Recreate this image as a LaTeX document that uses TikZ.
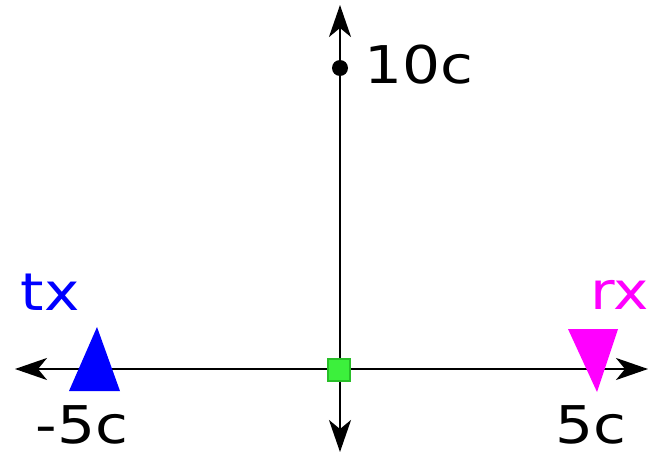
\documentclass[tikz,border=0pt]{standalone}
\usepackage{fontspec}
\setmainfont{DejaVu Sans}
\usetikzlibrary{arrows.meta}
\definecolor{gfill}{RGB}{60,240,60}
\definecolor{gdraw}{RGB}{40,190,40}
\definecolor{mag}{RGB}{255,0,255}
\definecolor{blu}{RGB}{0,0,255}
\tikzset{
  tipA/.tip={Stealth[length=32pt,width=22pt,inset=9pt]},
  axis/.style={line width=2.4pt, black, tipA-tipA},
  lbl/.style={inner sep=0pt, font=\fontsize{52}{60}\selectfont},
}
\newcommand{\wid}[1]{\scalebox{1.15}[1]{#1}}
\begin{document}
\begin{tikzpicture}[x=1pt,y=-1pt]
\useasboundingbox (0,0) rectangle (649,455);
\coordinate (L) at (15,369);
\coordinate (R) at (648,369);
\coordinate (T) at (340,5);
\coordinate (B) at (340,452);
\draw[axis] (L) -- (R);
\draw[axis] (B) -- (T);
\fill[black] (340,68) circle (8pt) coordinate (dot);
\node[draw=gdraw, fill=gfill, line width=1.2pt, minimum size=22pt, inner sep=0pt] (orig) at (339,370) {};
\fill[blu] (69,391) -- (120,391) -- (97,327) -- cycle;
\fill[mag] (568,329) -- (618,329) -- (597,392) -- cycle;
\node[lbl, anchor=base west] (t10) at (364,83) {\wid{10c}};
\node[lbl, anchor=base] (tm5) at (82,443) {\wid{-5c}};
\node[lbl, anchor=base] (t5) at (591,443) {\wid{5c}};
\node[lbl, anchor=base, text=blu] (tx) at (50,310) {\wid{tx}};
\node[lbl, anchor=base, text=mag] (rx) at (620,309) {\wid{rx}};
\end{tikzpicture}
\end{document}
